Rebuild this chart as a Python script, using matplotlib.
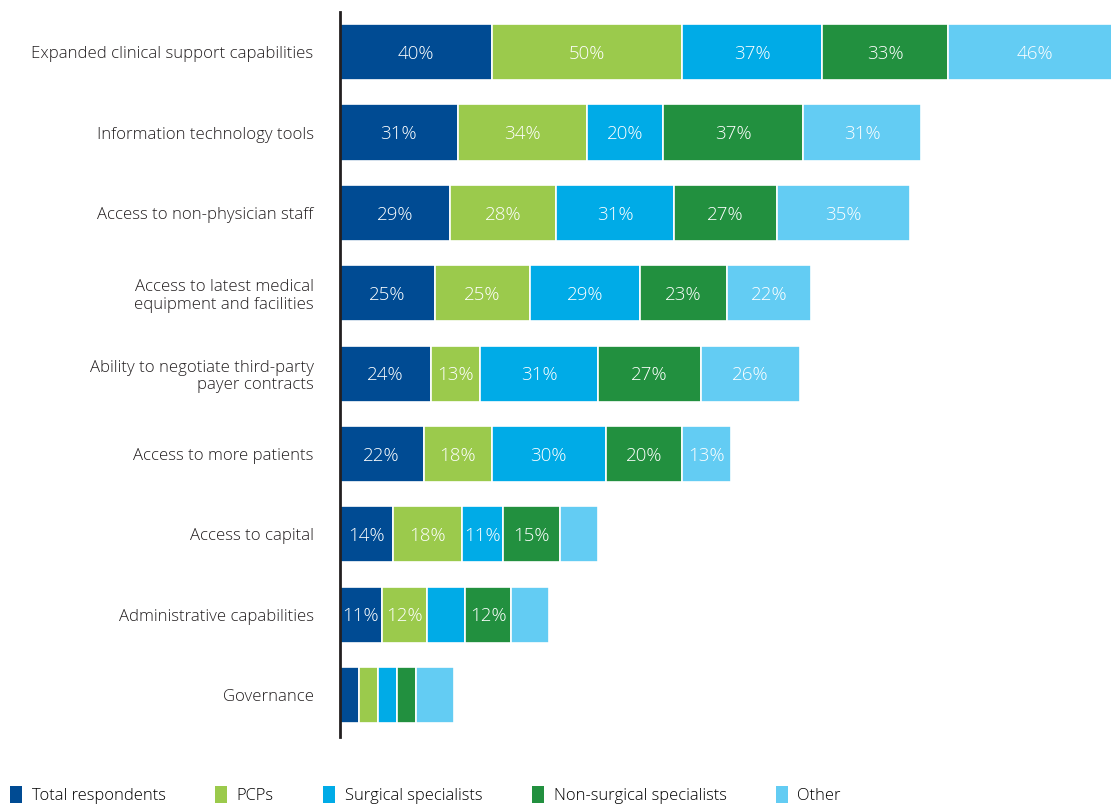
import numpy as np
import matplotlib.pyplot as plt
from matplotlib.patches import Patch

plt.rcParams['font.family'] = ['Open Sans', 'DejaVu Sans']

categories = ['Expanded clinical support capabilities',
              'Information technology tools',
              'Access to non-physician staff',
              'Access to latest medical\nequipment and facilities',
              'Ability to negotiate third-party\npayer contracts',
              'Access to more patients',
              'Access to capital',
              'Administrative capabilities',
              'Governance']

series = ['Total respondents', 'PCPs', 'Surgical specialists',
          'Non-surgical specialists', 'Other']

total = [40, 31, 29, 25, 24, 22, 14, 11, 5]
pcps = [50, 34, 28, 25, 13, 18, 18, 12, 5]
surgical = [37, 20, 31, 29, 31, 30, 11, 10, 5]
nonsurgical = [33, 37, 27, 23, 27, 20, 15, 12, 5]
other = [46, 31, 35, 22, 26, 13, 10, 10, 10]

# which values carry a printed label (small ones are left blank)
min_label = 11
hidden = {(7, 2), (6, 4), (7, 4)}

colors = ['#004b93', '#9bca4c', '#00abe7', '#22903f', '#63ccf3']

fig = plt.figure(figsize=(11.11, 8.07), dpi=100)
ax = fig.add_axes([0.306, 0.087, 0.694, 0.898])

y = np.arange(len(categories))
data = [total, pcps, surgical, nonsurgical, other]
left = np.zeros(len(categories))
for s, vals in enumerate(data):
    vals = np.array(vals, dtype=float)
    ax.barh(y, vals, left=left, height=0.7, color=colors[s],
            edgecolor='white', linewidth=1.2, label=series[s])
    for i, v in enumerate(vals):
        if v >= min_label and (i, s) not in hidden:
            ax.text(left[i] + v / 2, y[i] + 0.02, '%d%%' % v, ha='center',
                    va='center', color='white', fontsize=13.5,
                    fontweight='light')
    left += vals

ax.set_xlim(0, 203)
ax.set_ylim(len(categories) - 0.48, -0.5)
ax.set_yticks(y)
ax.set_yticklabels(categories, fontsize=12.1, color='#231f20',
                   fontweight='light', linespacing=1.15)
ax.tick_params(axis='y', length=0, pad=19)
ax.set_xticks([])
for sp in ['top', 'right', 'bottom']:
    ax.spines[sp].set_visible(False)
ax.spines['left'].set_linewidth(2)
ax.spines['left'].set_color('#231f20')

handles = [Patch(facecolor=c, edgecolor='none') for c in colors]
fig.legend(handles, series, loc='lower left', bbox_to_anchor=(-0.004, -0.015),
           ncol=5, frameon=False, prop={'size': 11.9, 'weight': 'light'},
           handlelength=0.7, handleheight=1.2, handletextpad=0.6,
           columnspacing=3.0)

fig.savefig('out.png', dpi=100)
